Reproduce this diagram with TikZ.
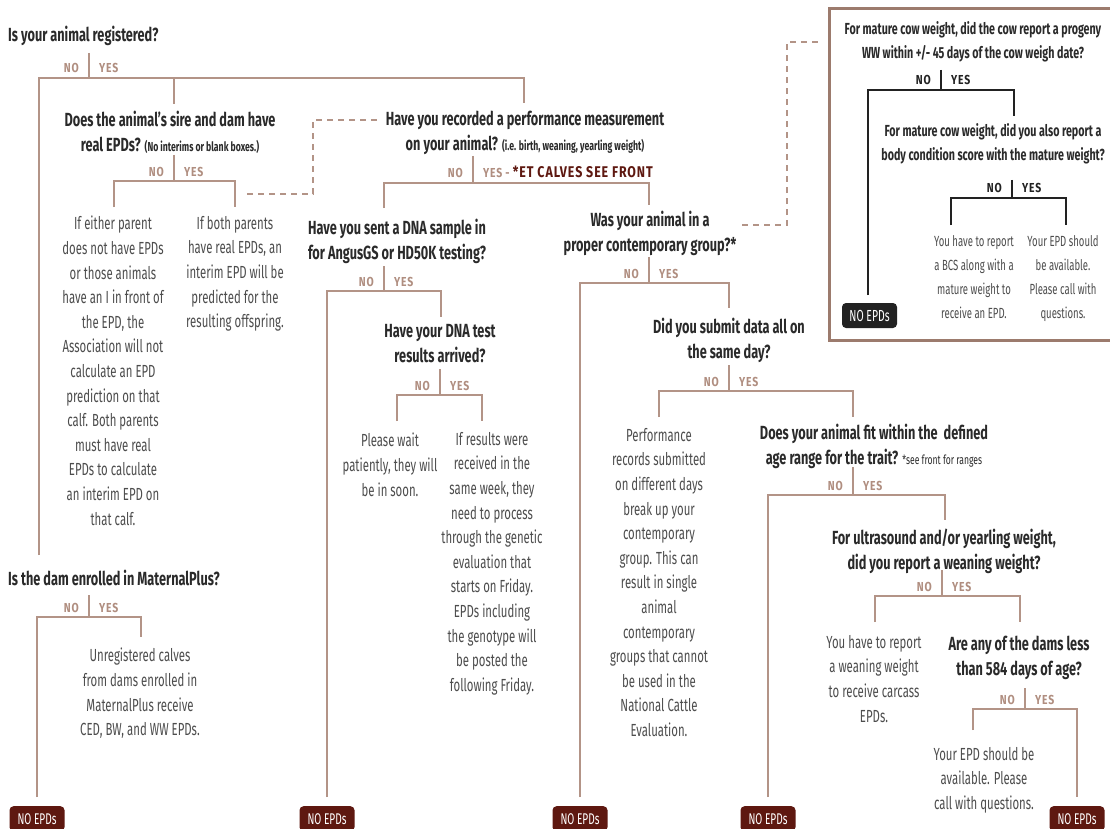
\documentclass[tikz,border=0pt]{standalone}
\usepackage{fontspec}
\setmainfont{Fira Sans}
\newfontfamily\qfam{Fira Sans}[FakeStretch=0.67]
\newfontfamily\bfam{Fira Sans}[FakeStretch=0.65]
\newfontfamily\lfam{Fira Sans}[FakeStretch=0.8,LetterSpace=6]
\usetikzlibrary{calc}
\definecolor{linec}{HTML}{B39487}
\definecolor{labc}{HTML}{B08E80}
\definecolor{qc}{HTML}{2A2A2A}
\definecolor{bodyc}{HTML}{4D4D4D}
\definecolor{accent}{HTML}{5E1810}
\definecolor{framec}{HTML}{9C7B6D}
\definecolor{darkl}{HTML}{222222}
\tikzset{
 conn/.style={line width=1.4pt, draw=linec},
 darkconn/.style={line width=1.2pt, draw=darkl},
 dashc/.style={line width=1.4pt, draw=linec, dash pattern=on 6pt off 5pt},
 ques/.style={font=\qfam\bfseries\fontsize{19}{25}\selectfont, text=qc, align=center, inner sep=0pt},
 smques/.style={font=\qfam\bfseries\fontsize{16}{24}\selectfont, text=qc, align=center, inner sep=0pt},
 bodyt/.style={font=\bfam\fontsize{17.5}{24.6}\selectfont, text=bodyc, align=center, inner sep=0pt},
 smbody/.style={font=\bfam\fontsize{14.7}{24}\selectfont, text=bodyc, align=center, inner sep=0pt},
 nylabc/.style={text=labc},
 nylab/.style={font=\lfam\bfseries\fontsize{13}{13}\selectfont, inner sep=0pt, nylabc},
 noepd/.style={fill=accent, text=white, rounded corners=4pt, minimum width=55pt, minimum height=25pt, inner sep=0pt, font=\bfam\fontsize{15.5}{15.5}\selectfont, anchor=north},
 blackepd/.style={fill=darkl, text=white, rounded corners=4pt, minimum width=55pt, minimum height=25pt, inner sep=0pt, font=\bfam\fontsize{16}{16}\selectfont},
}
\def\yestext{YES}
% #1 name, #2 x divider, #3 y top, #4 y bar, #5 x left, #6 x right, #7 y left end, #8 y right end, #9 line style
\newcommand\nyb[9]{%
 \coordinate (#1-t) at (#2,#3);
 \coordinate (#1) at (#2,#4);
 \coordinate (#1-l) at (#5,#4);
 \coordinate (#1-r) at (#6,#4);
 \coordinate (#1-le) at (#5,#7);
 \coordinate (#1-re) at (#6,#8);
 \draw[#9] (#1-t) -- (#1);
 \draw[#9] (#1-le) -- (#1-l) -- (#1-r) -- (#1-re);
 \node[nylab, anchor=base east] (#1-no) at ($(#1)+(-10,-5)$) {NO};
 \node[nylab, anchor=base west] (#1-yes) at ($(#1)+(10,-5)$) {\yestext};
}
\begin{document}
\begin{tikzpicture}[x=1pt,y=-1pt]
\useasboundingbox (0,0) rectangle (1110,829);
\fill[white] (0,0) rectangle (1110,829);

% ---------- questions ----------
\node[ques, anchor=west] (q1) at (8,36) {Is your animal registered?};
\node[ques, anchor=north] (q2) at (170,111) {Does the animal’s sire and dam have\\real EPDs? {\fontsize{13}{25}\selectfont (No interims or blank boxes.)}};
\node[ques, anchor=north] (q3) at (525,111) {Have you recorded a performance measurement\\on your animal? {\fontsize{13}{25}\selectfont (i.e. birth, weaning, yearling weight)}};
\node[ques, anchor=north] (q4) at (397,219) {Have you sent a DNA sample in\\for AngusGS or HD50K testing?};
\node[ques, anchor=north] (q5) at (440,324) {Have your DNA test\\results arrived?};
\node[ques, anchor=north] (q6) at (650,211) {Was your animal in a\\proper contemporary group?*};
\node[ques, anchor=north] (q7) at (729,318) {Did you submit data all on\\the same day?};
\node[ques, anchor=north] (q8) at (874,424) {Does your animal fit within the\ \ defined\\age range for the trait? {\mdseries\fontsize{12.8}{25}\selectfont *see front for ranges}};
\node[ques, anchor=north] (q9) at (944,529) {For ultrasound and/or yearling weight,\\did you report a weaning weight?};
\node[ques, anchor=north] (q10) at (1019,636) {Are any of the dams less\\than 584 days of age?};
\node[ques, anchor=west] (q11) at (8,578) {Is the dam enrolled in MaternalPlus?};

% ---------- body texts ----------
\node[bodyt, anchor=north] (b1) at (113,216) {If either parent\\does not have EPDs\\or those animals\\have an I in front of\\the EPD, the\\Association will not\\calculate an EPD\\prediction on that\\calf. Both parents\\must have real\\EPDs to calculate\\an interim EPD on\\that calf.};
\node[bodyt, anchor=north] (b2) at (235,216) {If both parents\\have real EPDs, an\\interim EPD will be\\predicted for the\\resulting offspring.};
\node[bodyt, anchor=north] (b3) at (390,433) {Please wait\\patiently, they will\\be in soon.};
\node[bodyt, anchor=north] (b4) at (492,432) {If results were\\received in the\\same week, they\\need to process\\through the genetic\\evaluation that\\starts on Friday.\\EPDs including\\the genotype will\\be posted the\\following Friday.};
\node[bodyt, anchor=north] (b5) at (659,428) {Performance\\records submitted\\on different days\\break up your\\contemporary\\group. This can\\result in single\\animal\\contemporary\\groups that cannot\\be used in the\\National Cattle\\Evaluation.};
\node[bodyt, anchor=north] (b6) at (874,635) {You have to report\\a weaning weight\\to receive carcass\\EPDs.};
\node[bodyt, anchor=north] (b7) at (984,747) {Your EPD should be\\available. Please\\call with questions.};
\node[bodyt, anchor=north] (b8) at (140,648) {Unregistered calves\\from dams enrolled in\\MaternalPlus receive\\CED, BW, and WW EPDs.};

% ---------- branches ----------
\nyb{br1}{89}{53}{78}{39}{524}{555}{103}{conn}
\coordinate (br1-m) at (174,78);
\coordinate (br1-me) at (174,104);
\draw[conn] (br1-m) -- (br1-me);
\nyb{br2}{174}{155}{181}{114}{235}{207}{207}{conn}
\def\yestext{YES - {\color{accent}\fontsize{15.5}{15.5}\selectfont *ET CALVES SEE FRONT}}
\nyb{br3}{473}{156}{183}{384}{649}{208}{205}{conn}
\def\yestext{YES}
\nyb{br4}{384}{266}{291}{327}{441}{797}{317}{conn}
\nyb{br5}{440}{369}{395}{397}{482}{421}{421}{conn}
\nyb{br6}{649}{257}{283}{580}{729}{797}{308}{conn}
\nyb{br7}{729}{365}{391}{659}{853}{417}{417}{conn}
\nyb{br8}{853}{467}{495}{768}{945}{797}{520}{conn}
\nyb{br9}{942}{570}{596}{875}{1020}{622}{622}{conn}
\nyb{br10}{1025}{688}{709}{973}{1077}{730}{797}{conn}
\nyb{br11}{89}{595}{617}{37}{141}{797}{637}{conn}

% ---------- dashed links ----------
\coordinate (d1a) at (247,194);
\coordinate (d1b) at (313,194);
\coordinate (d1c) at (313,120);
\coordinate (d1d) at (377,120);
\draw[dashc] (d1a) -- (d1b) -- (d1c) -- (d1d);
\coordinate (d2a) at (742,225);
\coordinate (d2b) at (787,225);
\coordinate (d2c) at (787,42);
\coordinate (d2d) at (820,42);
\draw[dashc] (d2a) -- (d2b) -- (d2c) -- (d2d);

% ---------- NO EPDs (boxes run past the lower edge) ----------
\node[noepd] (e1) at (37,806) {NO EPDs};
\node[noepd] (e2) at (327,806) {NO EPDs};
\node[noepd] (e3) at (580,806) {NO EPDs};
\node[noepd] (e4) at (768,806) {NO EPDs};
\node[noepd] (e5) at (1077,806) {NO EPDs};
\fill[accent] (e1.south west) rectangle ++(55,10);
\fill[accent] (e2.south west) rectangle ++(55,10);
\fill[accent] (e3.south west) rectangle ++(55,10);
\fill[accent] (e4.south west) rectangle ++(55,10);
\fill[accent] (e5.south west) rectangle ++(55,10);

% ---------- inset ----------
\draw[line width=3pt, framec] (1118,9) -- (829,9) -- (829,340) -- (1118,340);
\begin{scope}[nylabc/.style={text=darkl}]
\node[smques, anchor=north] (q12) at (973,21.5) {For mature cow weight, did the cow report a progeny\\WW within +/- 45 days of the cow weigh date?};
\node[smques, anchor=north] (q13) at (993,123.5) {For mature cow weight, did you also report a\\body condition score with the mature weight?};
\nyb{br12}{941}{70}{90}{868}{1014}{295}{116}{darkconn}
\nyb{br13}{1012}{180}{198}{951}{1066}{225}{225}{darkconn}
\node[smbody, anchor=north] (b9) at (974,235) {You have to report\\a BCS along with a\\mature weight to\\receive an EPD.};
\node[smbody, anchor=north] (b10) at (1063,235) {Your EPD should\\be available.\\Please call with\\questions.};
\node[blackepd] (e6) at (869.5,315.5) {NO EPDs};
\end{scope}
\end{tikzpicture}
\end{document}
